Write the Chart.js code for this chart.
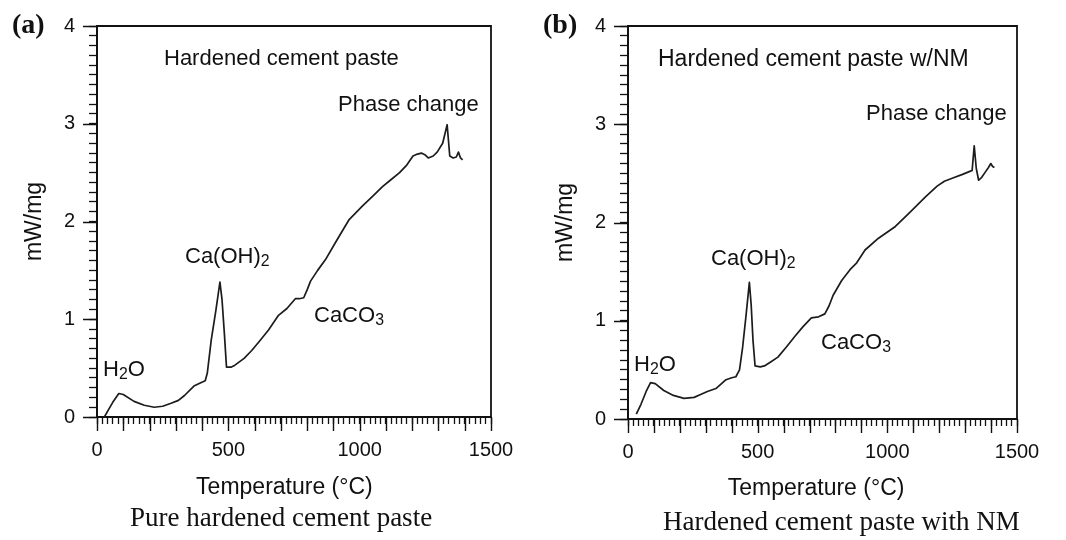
<!DOCTYPE html>
<html><head><meta charset="utf-8">
<script src="https://cdn.jsdelivr.net/npm/chart.js@4.4.0/dist/chart.umd.min.js"></script>
<style>
html,body{margin:0;padding:0;background:#fff;}
#wrap{position:relative;width:1066px;height:540px;overflow:hidden;background:#fff;}
canvas{position:absolute;top:0;}
.t{position:absolute;font-family:"Liberation Sans",Arial,sans-serif;color:#111;line-height:1;white-space:nowrap;}
.cap{position:absolute;font-family:"Liberation Serif","Times New Roman",serif;font-size:27px;color:#111;line-height:1;white-space:nowrap;}
.pl{position:absolute;font-family:"Liberation Serif","Times New Roman",serif;font-weight:bold;font-size:28px;color:#111;line-height:1;}
sub{font-size:0.72em;vertical-align:-0.2em;line-height:0;}
</style></head>
<body>
<div id="wrap">
  <canvas id="cA" width="533" height="540" style="left:0px"></canvas>
  <canvas id="cB" width="533" height="540" style="left:533px"></canvas>

  <div class="pl" style="left:12px;top:10px">(a)</div>
  <div class="pl" style="left:543px;top:10px">(b)</div>

  <div class="t" style="left:164px;top:47px;font-size:22px">Hardened cement paste</div>
  <div class="t" style="left:338px;top:93px;font-size:22px">Phase change</div>
  <div class="t" style="left:185px;top:245px;font-size:22px">Ca(OH)<sub>2</sub></div>
  <div class="t" style="left:103px;top:358px;font-size:22px">H<sub>2</sub>O</div>
  <div class="t" style="left:314px;top:304px;font-size:22px">CaCO<sub>3</sub></div>

  <div class="t" style="left:658px;top:47px;font-size:23px">Hardened cement paste w/NM</div>
  <div class="t" style="left:866px;top:102px;font-size:22px">Phase change</div>
  <div class="t" style="left:711px;top:247px;font-size:22px">Ca(OH)<sub>2</sub></div>
  <div class="t" style="left:634px;top:353px;font-size:22px">H<sub>2</sub>O</div>
  <div class="t" style="left:821px;top:331px;font-size:22px">CaCO<sub>3</sub></div>

  <div class="cap" style="left:130px;top:504px">Pure hardened cement paste</div>
  <div class="cap" style="left:663px;top:508px">Hardened cement paste with NM</div>
</div>
<script>
// ---- data ----
const tempA = [28, 45, 60, 83, 100, 141, 180, 218, 250, 282, 310, 333, 371, 395, 412, 420, 435, 452, 468, 476, 485, 493, 510, 525, 560, 589, 620, 653, 691, 723, 755, 770, 787, 800, 813, 840, 870, 909, 960, 1011, 1050, 1088, 1120, 1152, 1180, 1203, 1220, 1235, 1250, 1261, 1280, 1295, 1316, 1333, 1343, 1356, 1368, 1376, 1384, 1392];
const valA  = [0, 0.08, 0.15, 0.24, 0.23, 0.16, 0.12, 0.10, 0.11, 0.14, 0.17, 0.22, 0.32, 0.35, 0.37, 0.45, 0.79, 1.08, 1.38, 1.20, 0.85, 0.51, 0.51, 0.53, 0.60, 0.68, 0.78, 0.89, 1.04, 1.11, 1.21, 1.21, 1.22, 1.30, 1.39, 1.50, 1.61, 1.79, 2.02, 2.16, 2.26, 2.36, 2.43, 2.50, 2.58, 2.67, 2.69, 2.70, 2.68, 2.65, 2.67, 2.71, 2.80, 2.99, 2.67, 2.65, 2.66, 2.71, 2.65, 2.63];

const tempB = [32, 50, 70, 87, 105, 138, 175, 216, 255, 280, 306, 339, 378, 400, 416, 430, 442, 455, 468, 475, 482, 490, 510, 526, 550, 578, 610, 643, 675, 707, 735, 759, 775, 791, 824, 856, 882, 914, 966, 1031, 1082, 1147, 1192, 1220, 1250, 1290, 1318, 1327, 1335, 1343, 1352, 1364, 1377, 1390, 1399, 1406, 1413];
const valB  = [0.05, 0.15, 0.28, 0.37, 0.36, 0.29, 0.24, 0.21, 0.22, 0.25, 0.28, 0.31, 0.40, 0.42, 0.43, 0.50, 0.73, 1.05, 1.39, 1.16, 0.80, 0.54, 0.53, 0.54, 0.58, 0.63, 0.73, 0.84, 0.94, 1.03, 1.04, 1.07, 1.15, 1.26, 1.41, 1.52, 1.59, 1.72, 1.84, 1.96, 2.09, 2.26, 2.37, 2.42, 2.45, 2.49, 2.52, 2.53, 2.78, 2.55, 2.43, 2.46, 2.51, 2.56, 2.60, 2.57, 2.56];

const xTickLabels = [0, 500, 1000, 1500];
const yTickLabels = [0, 1, 2, 3, 4];
const xMediumTicks = [0, 100, 200, 300, 400, 500, 600, 700, 800, 900, 1000, 1100, 1200, 1300, 1400, 1500];
const yMajorTicks = [0, 1, 2, 3, 4];

function pts(t, v) { return t.map((x, i) => ({ x: x, y: v[i] })); }

const INK = '#111';

const frameTicks = {
  id: 'frameTicks',
  afterDraw(chart, args, opts) {
    const { ctx, chartArea: a, scales: { x, y } } = chart;
    ctx.save();
    ctx.strokeStyle = INK;
    ctx.lineWidth = 1.4;
    ctx.beginPath();
    for (const v of opts.xMajor) {
      const px = Math.round(x.getPixelForValue(v)) + 0.5;
      ctx.moveTo(px, a.bottom); ctx.lineTo(px, a.bottom + opts.len);
    }
    for (const v of opts.yMajor) {
      const py = Math.round(y.getPixelForValue(v)) + 0.5;
      ctx.moveTo(a.left, py); ctx.lineTo(a.left - opts.len, py);
    }
    ctx.stroke();
    ctx.lineWidth = 1.8;
    ctx.beginPath();
    ctx.moveTo(a.left, a.top); ctx.lineTo(a.right, a.top); ctx.lineTo(a.right, a.bottom);
    ctx.stroke();
    ctx.restore();
  }
};

function build(id, temps, vals, g) {
  return new Chart(document.getElementById(id), {
    type: 'line',
    data: {
      datasets: [{
        data: pts(temps, vals),
        borderColor: '#1c1c1c',
        borderWidth: 1.7,
        pointRadius: 0,
        tension: 0,
        borderJoinStyle: 'round',
        fill: false
      }]
    },
    options: {
      responsive: false,
      animation: false,
      devicePixelRatio: 1,
      layout: { padding: { left: 0, top: 22, right: g.padRight, bottom: 0 } },
      plugins: {
        legend: { display: false },
        tooltip: { enabled: false },
        frameTicks: { len: 14, xMajor: xMediumTicks, yMajor: yMajorTicks }
      },
      scales: {
        x: {
          type: 'linear', min: 0, max: 1500,
          afterFit: s => { s.height = g.xHeight; },
          ticks: {
            stepSize: 20, autoSkip: false, maxRotation: 0, minRotation: 0, padding: 14,
            color: INK, font: { family: 'Liberation Sans', size: 20 },
            callback: v => xTickLabels.includes(v) ? String(v) : ''
          },
          grid: { drawOnChartArea: false, tickLength: 7, tickColor: INK, tickWidth: 1.3 },
          border: { color: INK, width: 2 },
          title: {
            display: true, text: g.xTitle, color: INK,
            font: { family: 'Liberation Sans', size: 23 },
            padding: { top: 0, bottom: g.xTitlePad }
          }
        },
        y: {
          type: 'linear', min: 0, max: 4,
          afterFit: s => { s.width = g.yWidth; },
          ticks: {
            stepSize: 0.1, autoSkip: false, padding: 14,
            color: INK, font: { family: 'Liberation Sans', size: 20 },
            callback: v => {
              const r = Math.round(v);
              return (Math.abs(v - r) < 1e-6 && yTickLabels.includes(r)) ? String(r) : '';
            }
          },
          grid: { drawOnChartArea: false, tickLength: 8, tickColor: INK, tickWidth: 1.3 },
          border: { color: INK, width: 2 },
          title: {
            display: true, text: 'mW/mg', color: INK,
            font: { family: 'Liberation Sans', size: 23 },
            padding: { top: g.yTitlePad, bottom: 0 }
          }
        }
      }
    },
    plugins: [frameTicks]
  });
}

build('cA', tempA, valA, {
  padRight: 42, yWidth: 97, xHeight: 123, xTitlePad: 39, yTitlePad: 21,
  xTitle: 'Temperature (\u00B0C)\u00A0\u00A0\u00A0'
});
build('cB', tempB, valB, {
  padRight: 49, yWidth: 95, xHeight: 121, xTitlePad: 38, yTitlePad: 19,
  xTitle: 'Temperature (\u00B0C)\u00A0\u00A0'
});
</script>
</body></html>
